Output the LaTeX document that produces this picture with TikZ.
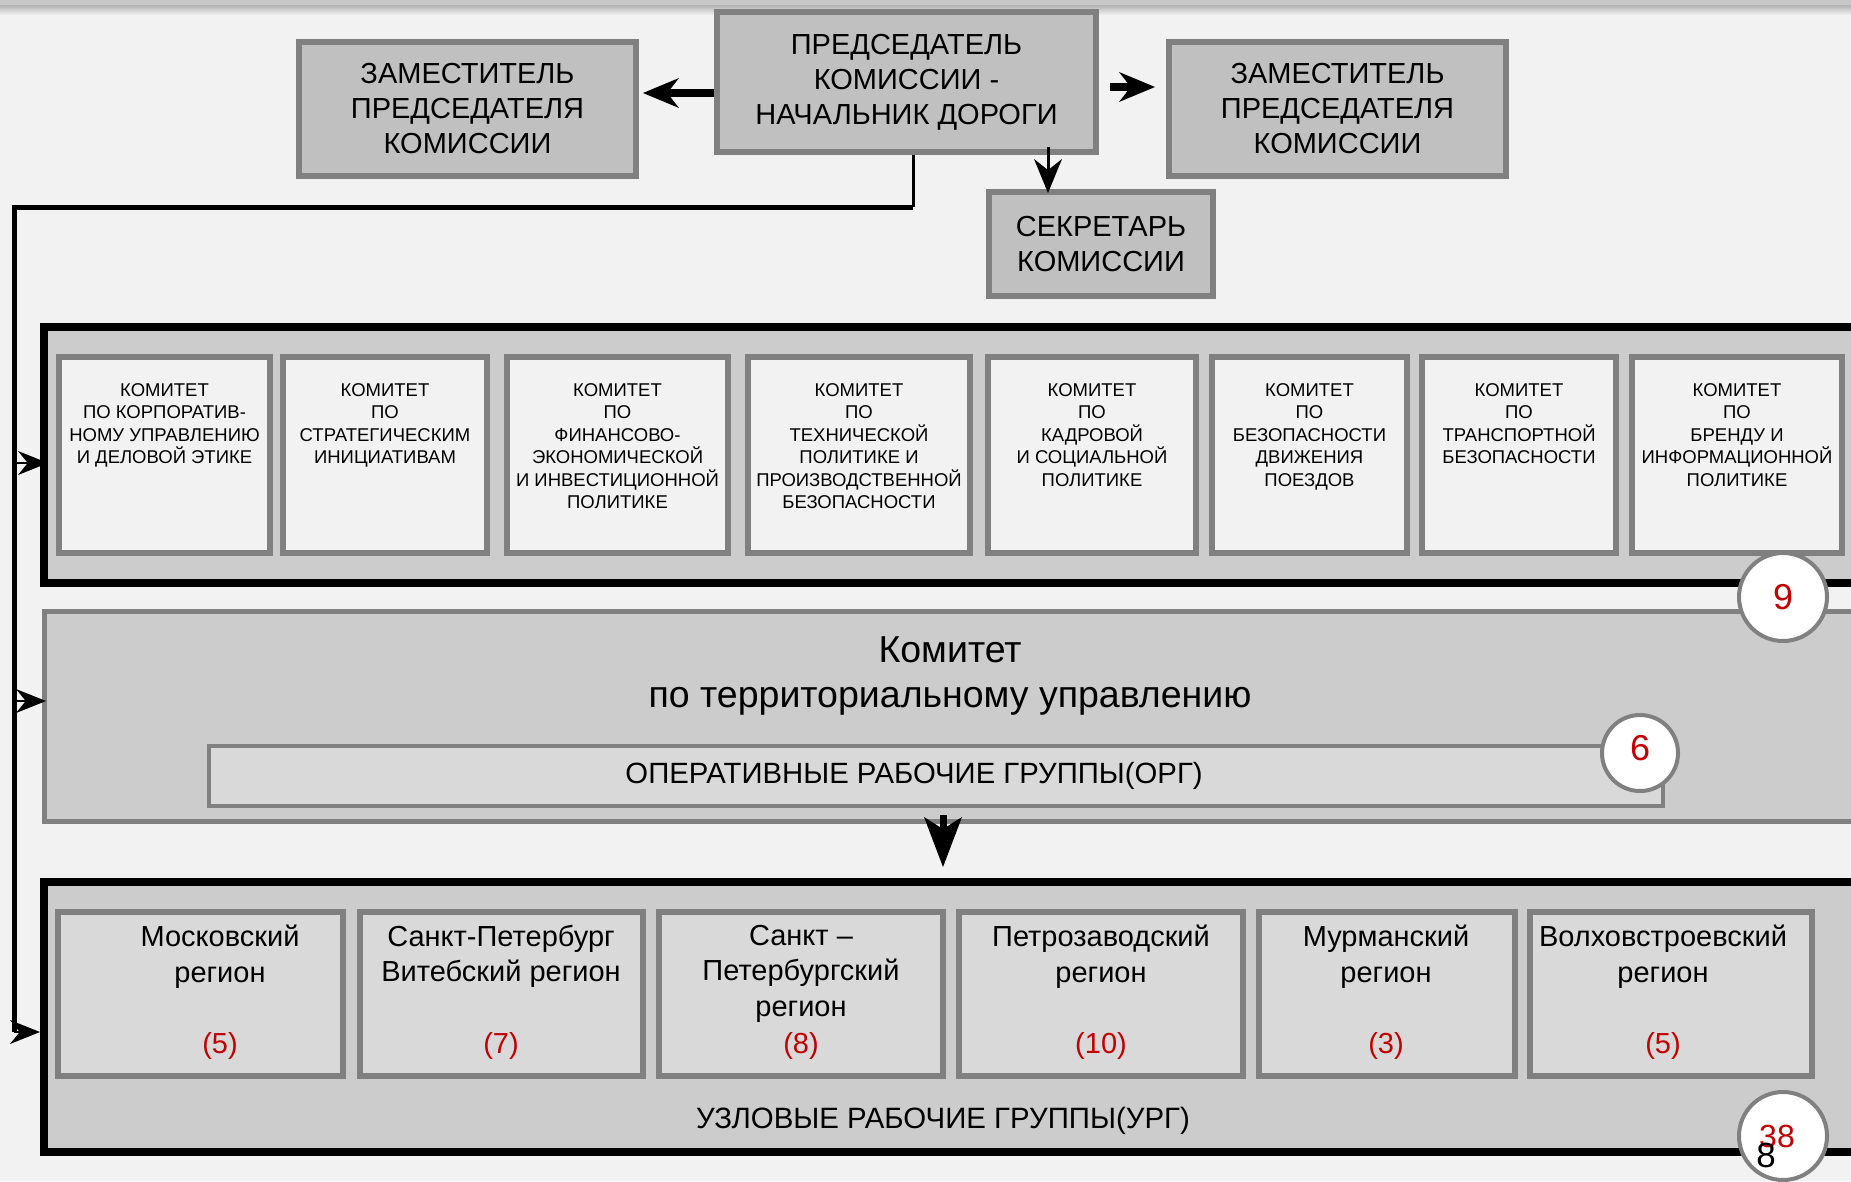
\documentclass[tikz,border=0pt]{standalone}
\usepackage{fontspec}
\setmainfont{Liberation Sans}
\usetikzlibrary{arrows.meta,positioning}
\definecolor{bg}{HTML}{F2F2F2}
\definecolor{band}{HTML}{C8C8C8}
\definecolor{frame}{HTML}{808080}
\definecolor{headfill}{HTML}{C0C0C0}
\definecolor{panel}{HTML}{CCCCCC}
\definecolor{cell}{HTML}{D9D9D9}
\definecolor{numred}{HTML}{C00000}
\begin{document}
\begin{tikzpicture}[x=1pt, y=-1pt,
    headbox/.style={draw=frame, line width=6pt, fill=headfill, anchor=north west,
      align=center, inner sep=0pt, font=\fontsize{29}{35}\selectfont},
    panelbox/.style={draw=black, line width=8pt, fill=panel, anchor=north west,
      minimum width=1852pt},
    combox/.style={draw=frame, line width=6pt, fill=bg, anchor=north west,
      minimum height=196pt},
    comtext/.style={align=center, inner sep=0pt, font=\fontsize{18.5}{22.5}\selectfont},
    regbox/.style={draw=frame, line width=6pt, fill=cell, anchor=north west,
      minimum height=164pt},
    regtext/.style={align=center, inner sep=0pt, anchor=north,
      font=\fontsize{29}{35.5}\selectfont},
    regcount/.style={anchor=base, inner sep=0pt, text=numred,
      font=\fontsize{29}{35}\selectfont},
    numcircle/.style={circle, draw=frame, line width=4pt, fill=white},
    numtext/.style={inner sep=0pt, text=numred, font=\fontsize{36}{36}\selectfont},
    sidearrow/.style={-{Stealth[length=30pt, width=24pt, line width=0pt]}, line width=2pt},
    bigarrow/.style={-{Stealth[length=36pt, width=30pt, line width=0pt]}, line width=8pt},
  ]
  \useasboundingbox (0,0) rectangle (1851,1181);
  \clip (0,0) rectangle (1851,1181);
  \fill[bg] (0,0) rectangle (1851,1181);
  \fill[band] (0,0) rectangle (1851,5);
  \shade[top color=band!70!gray, bottom color=bg] (0,5) rectangle (1851,15);

  % head of the commission
  \node[headbox, minimum width=379pt, minimum height=140pt] (chair) at (714,9)
    {ПРЕДСЕДАТЕЛЬ\\КОМИССИИ -\\НАЧАЛЬНИК ДОРОГИ};
  \node[headbox, minimum width=337pt, minimum height=134pt] (dep1) at (296,39)
    {ЗАМЕСТИТЕЛЬ\\ПРЕДСЕДАТЕЛЯ\\КОМИССИИ};
  \node[headbox, minimum width=337pt, minimum height=134pt] (dep2) at (1166,39)
    {ЗАМЕСТИТЕЛЬ\\ПРЕДСЕДАТЕЛЯ\\КОМИССИИ};
  \node[headbox, minimum width=224pt, minimum height=104pt] (secr) at (986,189)
    {СЕКРЕТАРЬ\\КОМИССИИ};

  \draw[bigarrow, shorten >=4pt] ([yshift=-11pt]chair.west) -- ([yshift=-11pt]chair.west -| dep1.east);
  \draw[bigarrow, shorten <=11pt, shorten >=11pt] ([yshift=-5pt]chair.east) -- ([yshift=-5pt]chair.east -| dep2.west);
  \draw[-{Stealth[length=34pt, width=28pt, line width=0pt]}, line width=3pt, shorten <=-8pt, shorten >=-4pt]
    ([xshift=-53pt]secr.north |- chair.south) -- ([xshift=-53pt]secr.north);

  % committees
  \node[panelbox, minimum height=256pt] (comm) at (40,323) {};
  \node[combox, minimum width=211pt] (c1) at (56,354) {};
  \node[combox, minimum width=204pt] (c2) at (280,354) {};
  \node[combox, minimum width=221pt] (c3) at (504,354) {};
  \node[combox, minimum width=222pt] (c4) at (745,354) {};
  \node[combox, minimum width=208pt] (c5) at (985,354) {};
  \node[combox, minimum width=195pt] (c6) at (1209,354) {};
  \node[combox, minimum width=194pt] (c7) at (1419,354) {};
  \node[combox, minimum width=210pt] (c8) at (1629,354) {};
  \node[comtext, below=29pt of c1.north] {КОМИТЕТ\\ПО КОРПОРАТИВ-\\НОМУ УПРАВЛЕНИЮ\\И ДЕЛОВОЙ ЭТИКЕ};
  \node[comtext, below=29pt of c2.north] {КОМИТЕТ\\ПО\\СТРАТЕГИЧЕСКИМ\\ИНИЦИАТИВАМ};
  \node[comtext, below=29pt of c3.north] {КОМИТЕТ\\ПО\\ФИНАНСОВО-\\ЭКОНОМИЧЕСКОЙ\\И ИНВЕСТИЦИОННОЙ\\ПОЛИТИКЕ};
  \node[comtext, below=29pt of c4.north] {КОМИТЕТ\\ПО\\ТЕХНИЧЕСКОЙ\\ПОЛИТИКЕ И\\ПРОИЗВОДСТВЕННОЙ\\БЕЗОПАСНОСТИ};
  \node[comtext, below=29pt of c5.north] {КОМИТЕТ\\ПО\\КАДРОВОЙ\\И СОЦИАЛЬНОЙ\\ПОЛИТИКЕ};
  \node[comtext, below=29pt of c6.north] {КОМИТЕТ\\ПО\\БЕЗОПАСНОСТИ\\ДВИЖЕНИЯ\\ПОЕЗДОВ};
  \node[comtext, below=29pt of c7.north] {КОМИТЕТ\\ПО\\ТРАНСПОРТНОЙ\\БЕЗОПАСНОСТИ};
  \node[comtext, below=29pt of c8.north] {КОМИТЕТ\\ПО\\БРЕНДУ И\\ИНФОРМАЦИОННОЙ\\ПОЛИТИКЕ};

  % territorial committee
  \node[draw=frame, line width=5pt, fill=panel, anchor=north west,
    minimum width=1853pt, minimum height=210pt] (terr) at (42,609) {};
  \node[align=center, inner sep=0pt, anchor=north, font=\fontsize{37.5}{45}\selectfont]
    (terrtext) at (950,636) {Комитет\\по территориальному управлению};
  \node[draw=frame, line width=4pt, fill=cell, anchor=north west,
    minimum width=1454pt, minimum height=60pt] (org) at (207,744) {};
  \node[anchor=base, inner sep=0pt, font=\fontsize{29.3}{30}\selectfont]
    (orgtext) at (914,783) {ОПЕРАТИВНЫЕ РАБОЧИЕ ГРУППЫ(ОРГ)};
  \node[numcircle, minimum size=88pt] (n9) at (1783,597) {};
  \node[numtext] at (n9) {9};
  \node[numcircle, minimum size=76pt] (n6) at (1640,753) {};
  \node[numtext, yshift=5pt] at (n6) {6};

  % regions
  \node[panelbox, minimum height=270pt] (nodal) at (40,878) {};
  \node[regbox, minimum width=285pt] (r1) at (55,909) {};
  \node[regbox, minimum width=283pt] (r2) at (357,909) {};
  \node[regbox, minimum width=284pt] (r3) at (656,909) {};
  \node[regbox, minimum width=284pt] (r4) at (956,909) {};
  \node[regbox, minimum width=256pt] (r5) at (1256,909) {};
  \node[regbox, minimum width=282pt] (r6) at (1527,909) {};
  \node[regtext] (t1) at (220,925) {Московский\\регион};
  \node[regtext] (t2) at (501,925) {Санкт-Петербург\\Витебский регион};
  \node[regtext] (t3) at (801,925) {Санкт –\\Петербургский\\регион};
  \node[regtext] (t4) at (1101,925) {Петрозаводский\\регион};
  \node[regtext] (t5) at (1386,925) {Мурманский\\регион};
  \node[regtext] (t6) at (1663,925) {Волховстроевский\\регион};
  \node[regcount] (k1) at (220,1053) {(5)};
  \node[regcount] (k2) at (501,1053) {(7)};
  \node[regcount] (k3) at (801,1053) {(8)};
  \node[regcount] (k4) at (1101,1053) {(10)};
  \node[regcount] (k5) at (1386,1053) {(3)};
  \node[regcount] (k6) at (1663,1053) {(5)};
  \node[anchor=base, inner sep=0pt, font=\fontsize{29.4}{30}\selectfont]
    (urgtext) at (943,1128) {УЗЛОВЫЕ РАБОЧИЕ ГРУППЫ(УРГ)};
  \node[numcircle, minimum size=88pt] (n38) at (1783,1136) {};
  \node[numtext, font=\fontsize{32}{32}\selectfont, xshift=-6pt] at (n38) {38};
  \node[inner sep=0pt, font=\fontsize{35}{35}\selectfont] (n8) at (1766,1155) {8};

  % connectors
  \coordinate (turn) at (913,207);
  \coordinate (corner) at (14,207);
  \coordinate (a1) at (14,463);
  \coordinate (a2) at (14,701);
  \coordinate (foot) at (14,1032);
  \draw[line width=3pt] ([xshift=6.5pt]chair.south) -- (turn);
  \draw[line width=5pt] (turn) -- (corner) -- (foot);
  \draw[sidearrow, shorten >=-8pt] (a1) -- (a1 -| comm.west);
  \draw[sidearrow, shorten >=-4pt] (a2) -- (a2 -| terr.west);
  \draw[sidearrow] (foot) -- (foot -| nodal.west);
  \coordinate (drop) at (943,815);
  \draw[-{Stealth[length=50pt, width=38pt, inset=12pt, line width=0pt]}, line width=7pt,
    shorten >=11pt] (drop) -- (drop |- nodal.north);
\end{tikzpicture}
\end{document}
